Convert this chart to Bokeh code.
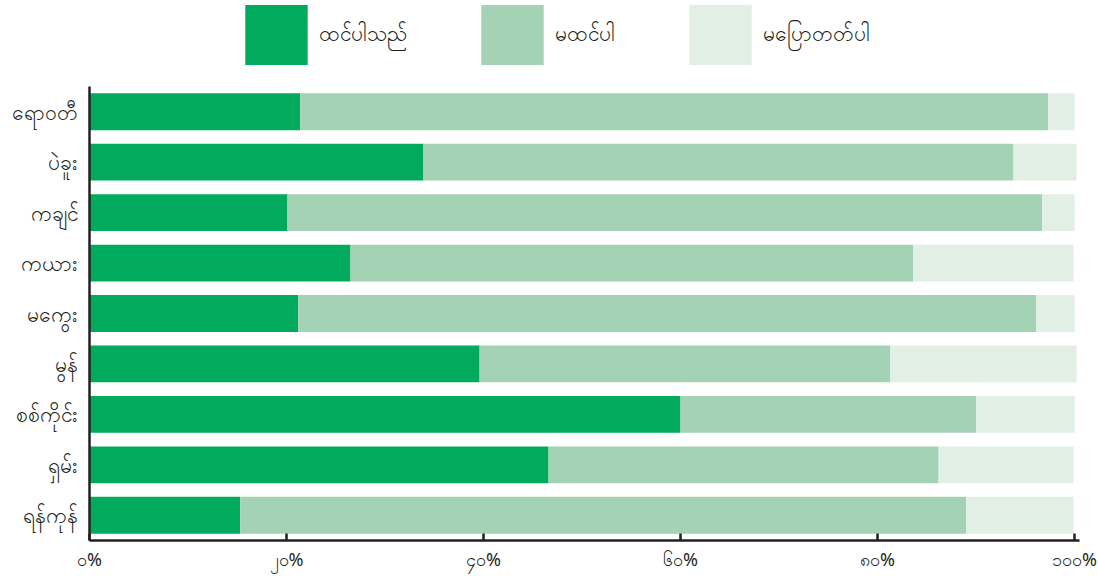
from bokeh.plotting import figure
from bokeh.layouts import column
from bokeh.models import FactorRange, Range1d, FixedTicker, Legend, LegendItem, ColumnDataSource
from bokeh.embed import file_html
from bokeh.resources import INLINE

# Regions, top to bottom
regions = ["ရောဝတီ", "ပဲခူး", "ကချင်", "ကယား", "မကွေး", "မွန်", "စစ်ကိုင်း", "ရှမ်း", "ရန်ကုန်"]

# Share of answers (%) per region
agree = [21.4, 33.9, 20.1, 26.5, 21.2, 39.6, 60.0, 46.6, 15.3]
disagree = [75.9, 59.9, 76.6, 57.1, 74.9, 41.7, 30.0, 39.6, 73.7]
dont_know = [2.7, 6.4, 3.3, 16.3, 3.9, 18.9, 10.0, 13.7, 10.9]

series_names = ["ထင်ပါသည်", "မထင်ပါ", "မပြောတတ်ပါ"]
series_colors = ["#02AA5D", "#A3D2B4", "#E1EFE5"]

tick_values = [0, 20, 40, 60, 80, 100]
tick_labels = ["၀%", "၂၀%", "၄၀%", "၆၀%", "၈၀%", "၁၀၀%"]

FONT = "Noto Sans"
INK = "#231F20"

source = ColumnDataSource(dict(
    region=regions,
    agree=agree,
    disagree=disagree,
    dont_know=dont_know,
))

# --- key strip across the top -------------------------------------------
key = figure(
    width=1098, height=86,
    x_range=Range1d(0, 1), y_range=Range1d(0, 1),
    x_axis_type=None, y_axis_type=None,
    output_backend="svg", toolbar_location=None,
    min_border=0,
)
key.grid.visible = False
key.outline_line_color = None
# swatch renderers kept outside the visible range; only their legend glyphs show
swatches = [
    key.hbar(y=[-5], left=[-5], right=[-4], height=1, fill_color=c, line_color=None)
    for c in series_colors
]
# area glyphs are drawn inset by 10% on each side, so the glyph box is 1/0.8 of the swatch
legend = Legend(
    items=[LegendItem(label=n, renderers=[r]) for n, r in zip(series_names, swatches)],
    orientation="horizontal",
    location=(148, 14),
    glyph_width=78, glyph_height=75,
    label_standoff=4, spacing=66,
    padding=0, margin=0,
    border_line_color=None, background_fill_alpha=0,
    label_text_font=FONT, label_text_font_size="21px", label_text_color=INK,
)
key.add_layout(legend, "center")

# --- stacked bars ---------------------------------------------------------
p = figure(
    width=1098, height=490,
    y_range=FactorRange(factors=list(reversed(regions)), range_padding=0),
    x_range=Range1d(0, 100.5),
    output_backend="svg", toolbar_location=None,
    min_border_left=89, min_border_right=19, min_border_top=0, min_border_bottom=36,
)

p.hbar_stack(
    ["agree", "disagree", "dont_know"], y="region", height=0.73,
    color=series_colors, line_width=0, source=source,
)

p.grid.visible = False
p.outline_line_color = None
p.background_fill_color = "white"

xa = p.xaxis[0]
xa.ticker = FixedTicker(ticks=tick_values)
xa.major_label_overrides = {v: s for v, s in zip(tick_values, tick_labels)}
xa.axis_line_color = INK
xa.axis_line_width = 2.5
xa.major_tick_line_color = INK
xa.major_tick_line_width = 2.5
xa.major_tick_in = 7
xa.major_tick_out = 0
xa.minor_tick_line_color = None
xa.major_label_text_font = FONT
xa.major_label_text_font_size = "18px"
xa.major_label_text_color = INK
xa.major_label_standoff = 6

ya = p.yaxis[0]
ya.axis_line_color = INK
ya.axis_line_width = 2.5
ya.major_tick_line_color = None
ya.minor_tick_line_color = None
ya.major_label_text_font = FONT
ya.major_label_text_font_size = "21px"
ya.major_label_text_color = INK
ya.major_label_standoff = 6

layout = column(key, p, spacing=0)
open("out.html", "w").write(file_html(layout, INLINE))
